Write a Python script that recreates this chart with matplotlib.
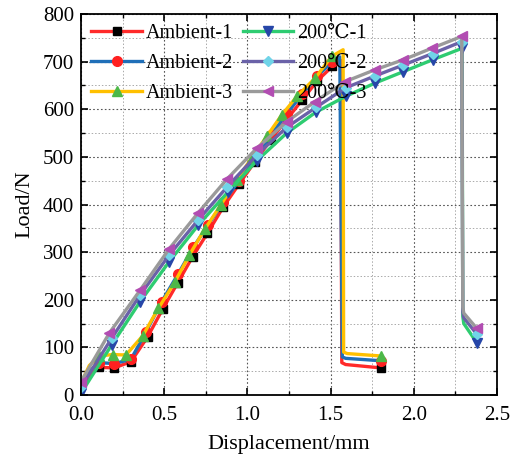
import matplotlib
matplotlib.use("Agg")
import matplotlib.pyplot as plt
from matplotlib.ticker import MultipleLocator

plt.rcParams['font.family'] = ['Liberation Serif', 'DejaVu Serif']

# Ambient-1 (red line, black squares)
amb1_x = [0.0, 0.05, 0.11, 0.20, 0.30, 0.40, 0.49, 0.58, 0.67, 0.76, 0.855, 0.95,
          1.045, 1.14, 1.235, 1.33, 1.42, 1.51, 1.56, 1.567, 1.59, 1.80]
amb1_y = [8, 42, 58, 57, 70, 122, 180, 235, 290, 340, 395, 443,
          490, 536, 578, 620, 660, 690, 703, 68, 64, 57]
# Ambient-2 (blue line, red circles)
amb2_x = [0.0, 0.05, 0.11, 0.20, 0.30, 0.39, 0.485, 0.585, 0.675, 0.765, 0.855, 0.95,
          1.045, 1.14, 1.235, 1.33, 1.42, 1.51, 1.555, 1.57, 1.59, 1.80]
amb2_y = [15, 50, 68, 66, 75, 132, 196, 255, 310, 358, 405, 450,
          497, 545, 590, 632, 670, 700, 710, 80, 77, 72]
# Ambient-3 (yellow line, green triangles)
amb3_x = [0.0, 0.05, 0.11, 0.19, 0.27, 0.37, 0.465, 0.565, 0.651, 0.745, 0.84, 0.936,
          1.026, 1.116, 1.206, 1.30, 1.406, 1.506, 1.575, 1.578, 1.60, 1.80]
amb3_y = [25, 62, 82, 85, 84, 124, 182, 238, 294, 349, 399, 452,
          498, 543, 588, 628, 665, 711, 725, 90, 87, 82]

# 200C-1 (green line, blue down triangles)
c1_x = [0.0, 0.184, 0.355, 0.53, 0.705, 0.885, 1.056, 1.236, 1.412, 1.59, 1.767,
        1.937, 2.113, 2.29, 2.294, 2.30, 2.378]
c1_y = [4, 105, 196, 280, 357, 427, 492, 550, 594, 627, 655,
        679, 704, 728, 165, 150, 110]
# 200C-2 (slate line, cyan diamonds)
c2_x = [0.0, 0.184, 0.355, 0.53, 0.705, 0.876, 1.056, 1.236, 1.412, 1.59, 1.767,
        1.937, 2.113, 2.288, 2.294, 2.30, 2.378]
c2_y = [17, 119, 210, 294, 368, 436, 504, 562, 604, 645, 670,
        693, 717, 742, 175, 162, 128]
# 200C-3 (grey line, purple left triangles)
c3_x = [0.0, 0.17, 0.355, 0.53, 0.705, 0.876, 1.056, 1.236, 1.406, 1.587, 1.767,
        1.937, 2.107, 2.288, 2.294, 2.30, 2.378]
c3_y = [28, 130, 220, 307, 383, 453, 518, 574, 616, 658, 683,
        704, 728, 753, 185, 172, 140]

labels = ['Ambient-1', 'Ambient-2', 'Ambient-3', '200\u2103-1', '200\u2103-2', '200\u2103-3']

amb_marks = list(range(2, 18)) + [21]
c_marks = list(range(0, 14)) + [16]

series = [
    (amb1_x, amb1_y, '#ff2a2a', 's', 'black', amb_marks),
    (amb2_x, amb2_y, '#1f6fb8', 'o', '#ff2020', amb_marks),
    (amb3_x, amb3_y, '#ffc000', '^', '#4cb848', amb_marks),
    (c1_x, c1_y, '#2ecc71', 'v', '#2646a8', c_marks),
    (c2_x, c2_y, '#6a62a8', 'D', '#70d4e8', c_marks),
    (c3_x, c3_y, '#9a9a9a', '<', '#b24db2', c_marks),
]

fig = plt.figure(figsize=(5.24, 4.62), dpi=100)
ax = fig.add_axes([0.1546, 0.145, 0.794, 0.8247])

for (x, y, lc, mk, mc, mev), lab in zip(series, labels):
    ms = 5.5 if mk in ('s', 'D') else 7
    ax.plot(x, y, color=lc, lw=2.4, marker=mk, markersize=ms, markerfacecolor=mc,
            markeredgecolor=mc, markevery=mev, label=lab)

ax.set_xlim(0, 2.5)
ax.set_ylim(0, 800)
ax.xaxis.set_major_locator(MultipleLocator(0.5))
ax.xaxis.set_minor_locator(MultipleLocator(0.25))
ax.yaxis.set_major_locator(MultipleLocator(100))
ax.yaxis.set_minor_locator(MultipleLocator(50))
ax.xaxis.set_major_formatter(plt.FuncFormatter(lambda v, p: f"{v:.1f}"))

ax.grid(which='major', color='#555555', ls=(0, (1.5, 2)), lw=0.8)
ax.grid(which='minor', color='#aaaaaa', ls=(0, (1.5, 2)), lw=0.7)
ax.set_axisbelow(True)

ax.tick_params(which='both', direction='in', top=True, right=True, labelsize=15)
ax.tick_params(axis='x', which='major', pad=8)
ax.tick_params(axis='y', which='major', pad=5)
ax.tick_params(which='major', length=5, width=1.2)
ax.tick_params(which='minor', length=3, width=1.0)
for s in ax.spines.values():
    s.set_linewidth(1.3)

ax.set_xlabel('Displacement/mm', fontsize=16, labelpad=7)
ax.set_ylabel('Load/N', fontsize=16, labelpad=6)

ax.legend(ncol=2, loc='upper left', bbox_to_anchor=(0.025, 0.975), frameon=False,
          fontsize=14.5, handlelength=2.5, handletextpad=0.2, columnspacing=0.5,
          labelspacing=0.55, borderpad=0, borderaxespad=0)

fig.savefig('out.png', dpi=100)
